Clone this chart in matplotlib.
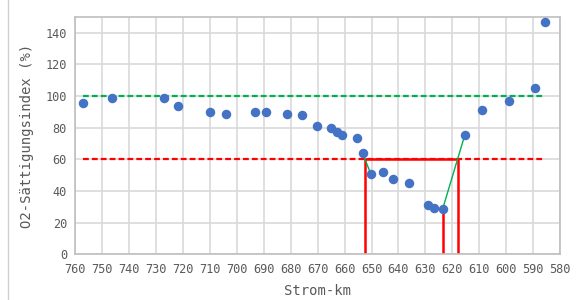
import numpy as np
import matplotlib
matplotlib.use("Agg")
import matplotlib.pyplot as plt
from matplotlib.lines import Line2D

# Data
km = np.array([757.0, 746.4, 727.1, 721.8, 710.1, 704.0, 693.2, 689.2, 681.5, 675.8,
               670.1, 665.2, 662.9, 660.8, 655.3, 653.3, 650.3, 645.6, 642.1, 636.1,
               629.0, 626.9, 623.6, 615.3, 609.1, 599.1, 589.2, 585.6])
o2 = np.array([95.6, 99.0, 99.0, 93.9, 90.1, 88.7, 90.1, 90.1, 88.7, 87.8,
               80.8, 80.0, 77.0, 75.7, 73.2, 64.0, 50.9, 51.9, 47.7, 45.0,
               31.0, 29.3, 28.5, 75.7, 91.2, 97.1, 105.1, 147.1])
upper_ref = 100
lower_ref = 60
xticks = np.arange(760, 579, -10)
yticks = np.arange(0, 141, 20)

# segments where the series crosses the 60 % threshold
seg1 = [15, 16]
seg2 = [22, 23]

def crossing(i, j, level):
    # linear interpolation of km where o2 hits level
    return km[i] + (level - o2[i]) * (km[j] - km[i]) / (o2[j] - o2[i])

x_a = crossing(*seg1, lower_ref)
x_b = crossing(*seg2, lower_ref)

plt.rcParams['font.family'] = ['DejaVu Sans Mono']
fig = plt.figure(figsize=(5.77, 3.0), dpi=100)
ax = fig.add_axes([75.3 / 577, 1 - 254.3 / 300, (560 - 75.3) / 577, (254.3 - 17) / 300])

grid_c = '#d9d9d9'
ax.set_xlim(760, 580)
ax.set_ylim(0, 150)
ax.set_xticks(xticks)
ax.set_yticks(yticks)
ax.grid(True, color=grid_c, linewidth=1.2)
ax.set_axisbelow(True)
for s in ax.spines.values():
    s.set_color('#bfbfbf')
    s.set_linewidth(1.2)
ax.tick_params(length=0, labelsize=8.6, colors='#595959', pad=6)

# reference lines
ax.plot([km[0], km[-1]], [upper_ref, upper_ref], color='#00b050', lw=1.6, dashes=(2.6, 1.4))
ax.plot([km[0], km[-1]], [lower_ref, lower_ref], color='#ff0000', lw=1.6, dashes=(2.6, 1.4))

# red threshold box
red = '#ff0000'
ax.plot([x_a, x_a, x_b, x_b], [0, lower_ref, lower_ref, 0], color=red, lw=1.8)
ax.plot([km[seg2[0]], km[seg2[0]]], [0, o2[seg2[0]]], color=red, lw=1.8)

# green connecting segments
ax.plot(km[seg1], o2[seg1], color='#00b050', lw=1.0)
ax.plot(km[seg2], o2[seg2], color='#00b050', lw=1.0)

ax.scatter(km, o2, s=34, color='#4472c4', zorder=5, clip_on=False)

ax.set_xlabel('Strom-km', fontsize=10, color='#595959', labelpad=6)
ax.set_ylabel('O2-Sättigungsindex (%)', fontsize=10, color='#595959', labelpad=8)

fig.add_artist(Line2D([7.5 / 577, 7.5 / 577], [0, 1], color='#d0d0d0', lw=1.0))

fig.savefig('out.png', dpi=100)
